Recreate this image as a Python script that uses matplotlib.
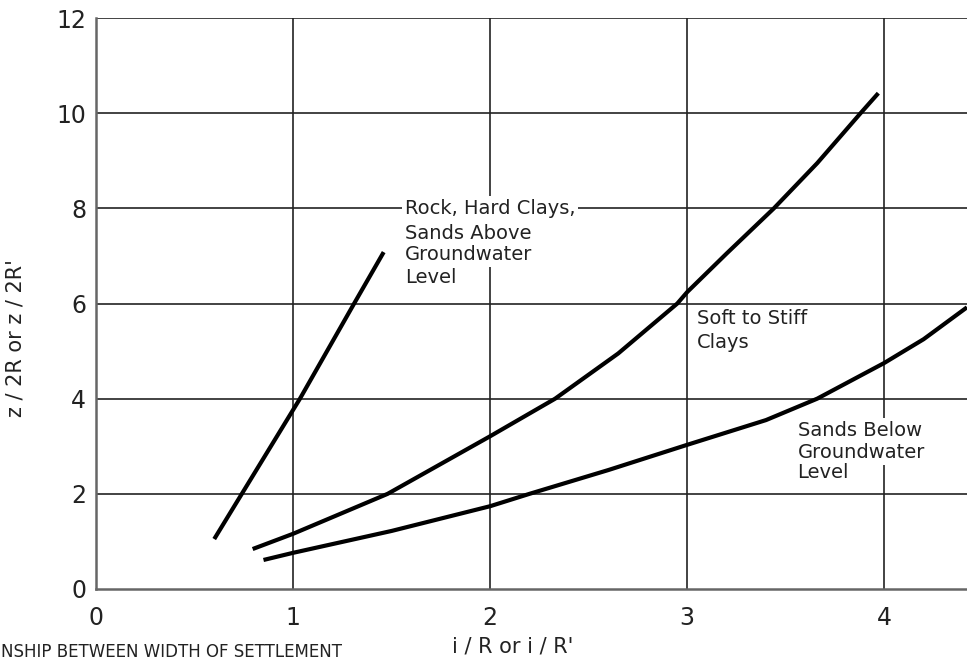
import matplotlib
matplotlib.use("Agg")
import matplotlib.pyplot as plt

# curves (x = i/R, y = z/2R)
rock_x = [0.60, 0.74, 1.035, 1.31, 1.46]
rock_y = [1.05, 2.0, 4.0, 6.0, 7.08]

clay_x = [0.795, 1.0, 1.48, 2.0, 2.33, 2.65, 2.95, 3.0, 3.2, 3.44, 3.66, 3.88, 3.97]
clay_y = [0.84, 1.16, 2.0, 3.21, 4.0, 4.95, 6.0, 6.24, 7.05, 8.0, 8.95, 10.0, 10.42]

sand_x = [0.85, 1.0, 1.5, 2.0, 2.2, 2.6, 3.0, 3.4, 3.66, 4.0, 4.2, 4.42]
sand_y = [0.61, 0.76, 1.22, 1.74, 2.0, 2.5, 3.03, 3.55, 4.0, 4.75, 5.25, 5.92]

x_ticks = [0, 1, 2, 3, 4]
y_ticks = [0, 2, 4, 6, 8, 10, 12]

# label lines: (x, y, text)
rock_label = [(1.569, 8.0, "Rock, Hard Clays,"), (1.569, 7.48, "Sands Above"),
              (1.569, 7.02, "Groundwater"), (1.569, 6.55, "Level")]
clay_label = [(3.05, 5.69, "Soft to Stiff"), (3.05, 5.17, "Clays")]
sand_label = [(3.56, 3.34, "Sands Below"), (3.56, 2.86, "Groundwater"),
              (3.56, 2.44, "Level")]

plt.rcParams['font.family'] = ['DejaVu Sans']

fig = plt.figure(figsize=(9.67, 6.64), dpi=100)
ax = fig.add_axes([96 / 967, 75 / 664, 871 / 967, 571 / 664])

ax.set_xlim(0, 4.42)
ax.set_ylim(0, 12)
ax.set_xticks(x_ticks)
ax.set_yticks(y_ticks)
ax.tick_params(length=0, labelsize=17, labelcolor="#222222")
ax.tick_params(axis="x", pad=12)
ax.tick_params(axis="y", pad=7)

for y in y_ticks[1:]:
    ax.axhline(y, color="#222222", lw=1.2, zorder=1)
for x in x_ticks[1:]:
    ax.axvline(x, color="#222222", lw=1.2, zorder=1)

for s in ["top", "right"]:
    ax.spines[s].set_visible(False)
for s in ["left", "bottom"]:
    ax.spines[s].set_color("#666666")
    ax.spines[s].set_linewidth(1.8)

for xs, ys in [(rock_x, rock_y), (clay_x, clay_y), (sand_x, sand_y)]:
    ax.plot(xs, ys, color="black", lw=3, solid_capstyle="butt", zorder=3)

for lines in [rock_label, clay_label, sand_label]:
    for x, y, t in lines:
        ax.text(x, y, t, ha="left", va="center", fontsize=14, color="#222222",
                zorder=4,
                bbox=dict(facecolor="white", edgecolor="none", pad=2))

ax.set_xlabel("i / R or i / R'", fontsize=15, color="#222222")
ax.set_ylabel("z / 2R or z / 2R'", fontsize=15, color="#222222")
ax.xaxis.set_label_coords(0.478, -0.083)
ax.yaxis.set_label_coords(-0.0815, 0.44)

# only the visible tail of the caption, as in the reference
fig.text(1 / 967, 3 / 664, "NSHIP BETWEEN WIDTH OF SETTLEMENT",
         ha="left", va="bottom", fontsize=12, color="#222222")

fig.savefig("out.png", dpi=100)
